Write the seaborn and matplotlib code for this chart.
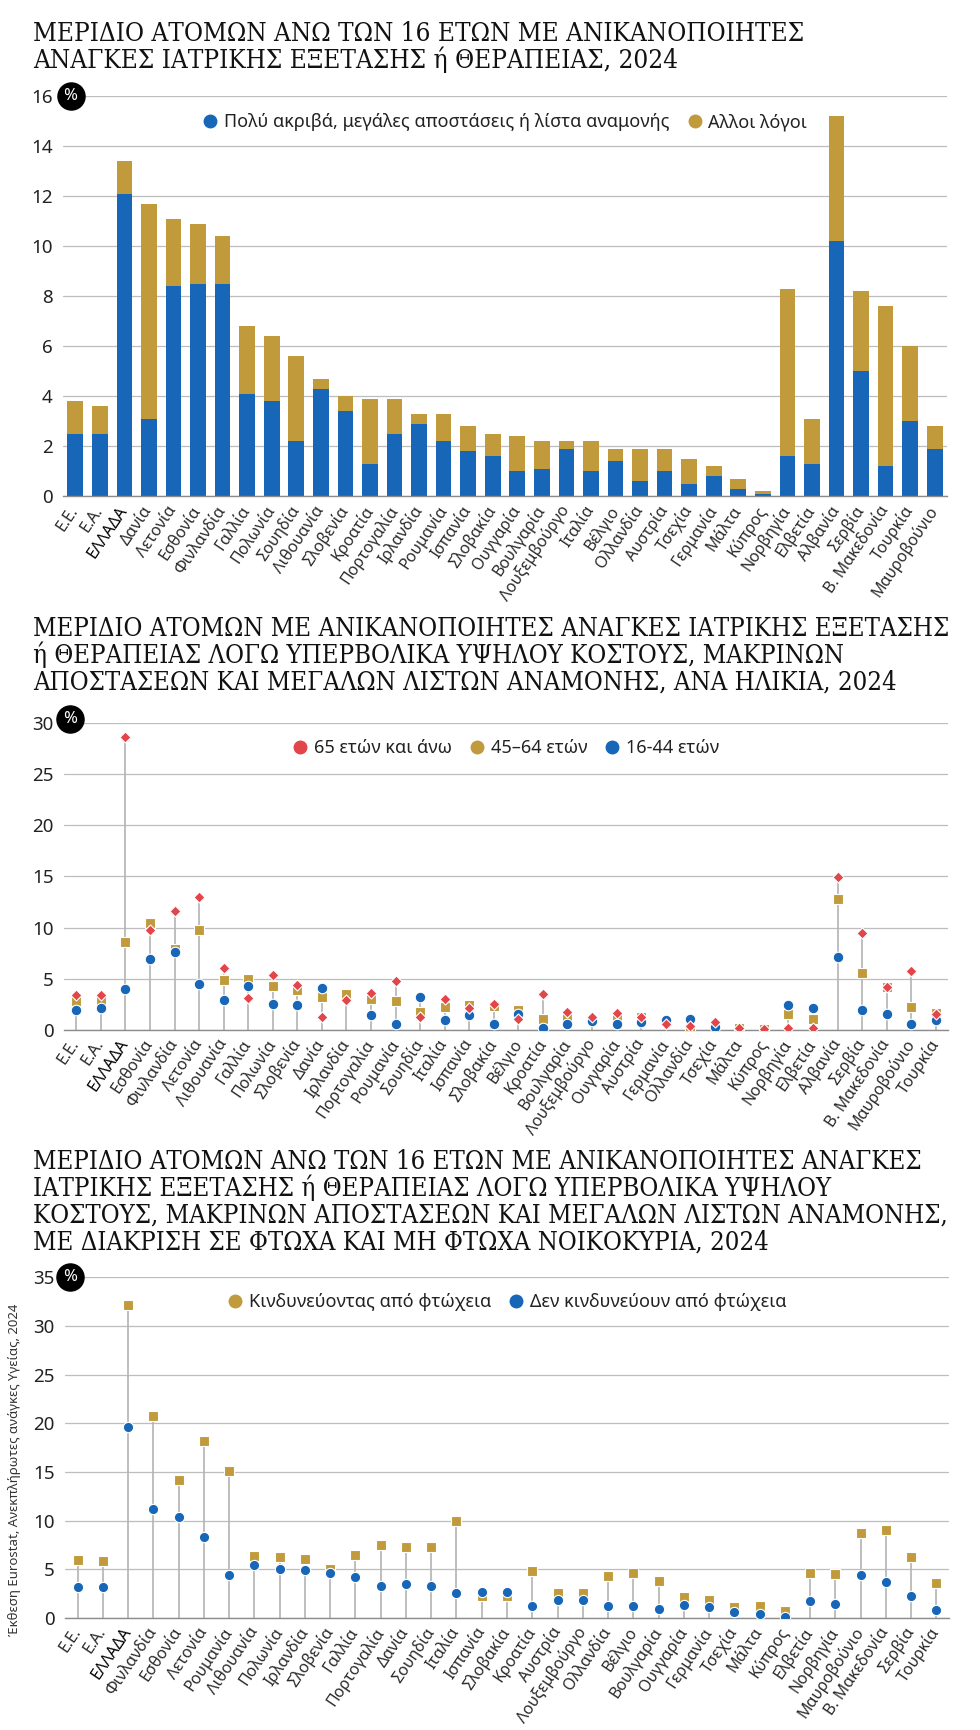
import numpy as np
import pandas as pd
import seaborn as sns
import matplotlib.pyplot as plt
from matplotlib.lines import Line2D

sns.set_theme(style='white')
plt.rcParams['font.family'] = ['Noto Sans', 'DejaVu Sans']

BLUE = '#1766b8'
GOLD = '#c09a3b'
RED = '#e1464a'
GRID = '#bdbdbd'
STEM = '#b3b3b3'
INK = '#111111'
nan = np.nan

# ---- chart 1: stacked bars
countries1 = ['Ε.Ε.', 'Ε.Α.', 'ΕΛΛΑΔΑ', 'Δανία', 'Λετονία', 'Εσθονία', 'Φινλανδία', 'Γαλλία',
              'Πολωνία', 'Σουηδία', 'Λιθουανία', 'Σλοβενία', 'Κροατία', 'Πορτογαλία', 'Ιρλανδία',
              'Ρουμανία', 'Ισπανία', 'Σλοβακία', 'Ουγγαρία', 'Βουλγαρία', 'Λουξεμβούργο', 'Ιταλία',
              'Βέλγιο', 'Ολλανδία', 'Αυστρία', 'Τσεχία', 'Γερμανία', 'Μάλτα', 'Κύπρος', 'Νορβηγία',
              'Ελβετία', 'Αλβανία', 'Σερβία', 'Β. Μακεδονία', 'Τουρκία', 'Μαυροβούνιο']
cost1 = [2.5, 2.5, 12.1, 3.1, 8.4, 8.5, 8.5, 4.1, 3.8, 2.2, 4.3, 3.4, 1.3, 2.5, 2.9, 2.2, 1.8, 1.6,
         1.0, 1.1, 1.9, 1.0, 1.4, 0.6, 1.0, 0.5, 0.8, 0.3, 0.1, 1.6, 1.3, 10.2, 5.0, 1.2, 3.0, 1.9]
other1 = [1.3, 1.1, 1.3, 8.6, 2.7, 2.4, 1.9, 2.7, 2.6, 3.4, 0.4, 0.6, 2.6, 1.4, 0.4, 1.1, 1.0, 0.9,
          1.4, 1.1, 0.3, 1.2, 0.5, 1.3, 0.9, 1.0, 0.4, 0.4, 0.1, 6.7, 1.8, 5.0, 3.2, 6.4, 3.0, 0.9]

# ---- chart 2: by age
countries2 = ['Ε.Ε.', 'Ε.Α.', 'ΕΛΛΑΔΑ', 'Εσθονία', 'Φινλανδία', 'Λετονία', 'Λιθουανία', 'Γαλλία',
              'Πολωνία', 'Σλοβενία', 'Δανία', 'Ιρλανδία', 'Πορτογαλία', 'Ρουμανία', 'Σουηδία',
              'Ιταλία', 'Ισπανία', 'Σλοβακία', 'Βέλγιο', 'Κροατία', 'Βουλγαρία', 'Λουξεμβούργο',
              'Ουγγαρία', 'Αυστρία', 'Γερμανία', 'Ολλανδία', 'Τσεχία', 'Μάλτα', 'Κύπρος', 'Νορβηγία',
              'Ελβετία', 'Αλβανία', 'Σερβία', 'Β. Μακεδονία', 'Μαυροβούνιο', 'Τουρκία']
age65 = [3.4, 3.4, 28.6, 9.8, 11.6, 13.0, 6.1, 3.1, 5.4, 4.4, 1.3, 2.9, 3.6, 4.8, 1.3, 3.0, 2.1, 2.5,
         1.1, 3.5, 1.8, 1.3, 1.7, 1.3, 0.6, 0.4, 0.8, 0.2, 0.1, 0.2, 0.2, 14.9, 9.5, 4.2, 5.8, 1.6]
age45 = [2.8, 2.8, 8.6, 10.4, 7.9, 9.8, 4.9, 5.0, 4.3, 3.9, 3.2, 3.5, 3.0, 2.8, 1.8, 2.2, 2.4, 2.3,
         2.0, 1.1, 1.3, nan, 1.3, 1.3, nan, 0.1, nan, 0.2, 0.1, 1.6, 1.1, 12.8, 5.6, 4.2, 2.2, 1.7]
age16 = [2.0, 2.1, 4.0, 6.9, 7.6, 4.5, 2.9, 4.3, 2.5, 2.4, 4.1, nan, 1.5, 0.6, 3.2, 1.0, 1.5, 0.6,
         1.6, 0.2, 0.6, 0.9, 0.6, 0.8, 1.0, 1.1, 0.3, nan, nan, 2.4, 2.1, 7.1, 2.0, 1.6, 0.6, 1.0]

# ---- chart 3: poor / non-poor households
countries3 = ['Ε.Ε.', 'Ε.Α.', 'ΕΛΛΑΔΑ', 'Φινλανδία', 'Εσθονία', 'Λετονία', 'Ρουμανία', 'Λιθουανία',
              'Πολωνία', 'Ιρλανδία', 'Σλοβενία', 'Γαλλία', 'Πορτογαλία', 'Δανία', 'Σουηδία',
              'Ιταλία', 'Ισπανία', 'Σλοβακία', 'Κροατία', 'Αυστρία', 'Λουξεμβούργο', 'Ολλανδία',
              'Βέλγιο', 'Βουλγαρία', 'Ουγγαρία', 'Γερμανία', 'Τσεχία', 'Μάλτα', 'Κύπρος', 'Ελβετία',
              'Νορβηγία', 'Μαυροβούνιο', 'Β. Μακεδονία', 'Σερβία', 'Τουρκία']
poor = [6.0, 5.9, 32.2, 20.8, 14.2, 18.2, 15.1, 6.4, 6.3, 6.1, 5.0, 6.5, 7.5, 7.3, 7.3, 10.0, 2.3,
        2.3, 4.8, 2.6, 2.6, 4.3, 4.6, 3.8, 2.2, 1.8, 1.1, 1.2, 0.7, 4.6, 4.5, 8.7, 9.0, 6.3, 3.6]
nonpoor = [3.2, 3.2, 19.6, 11.2, 10.4, 8.3, 4.4, 5.4, 5.0, 4.9, 4.6, 4.2, 3.3, 3.5, 3.3, 2.6, 2.7,
           2.7, 1.2, 1.9, 1.9, 1.2, 1.2, 0.9, 1.3, 1.1, 0.6, 0.4, 0.1, 1.7, 1.4, 4.4, 3.7, 2.3, 0.8]

titles = [
    ['ΜΕΡΙΔΙΟ ΑΤΟΜΩΝ ΑΝΩ ΤΩΝ 16 ΕΤΩΝ ΜΕ ΑΝΙΚΑΝΟΠΟΙΗΤΕΣ',
     'ΑΝΑΓΚΕΣ ΙΑΤΡΙΚΗΣ ΕΞΕΤΑΣΗΣ ή ΘΕΡΑΠΕΙΑΣ, 2024'],
    ['ΜΕΡΙΔΙΟ ΑΤΟΜΩΝ ΜΕ ΑΝΙΚΑΝΟΠΟΙΗΤΕΣ ΑΝΑΓΚΕΣ ΙΑΤΡΙΚΗΣ ΕΞΕΤΑΣΗΣ',
     'ή ΘΕΡΑΠΕΙΑΣ ΛΟΓΩ ΥΠΕΡΒΟΛΙΚΑ ΥΨΗΛΟΥ ΚΟΣΤΟΥΣ, ΜΑΚΡΙΝΩΝ',
     'ΑΠΟΣΤΑΣΕΩΝ ΚΑΙ ΜΕΓΑΛΩΝ ΛΙΣΤΩΝ ΑΝΑΜΟΝΗΣ, ΑΝΑ ΗΛΙΚΙΑ, 2024'],
    ['ΜΕΡΙΔΙΟ ΑΤΟΜΩΝ ΑΝΩ ΤΩΝ 16 ΕΤΩΝ ΜΕ ΑΝΙΚΑΝΟΠΟΙΗΤΕΣ ΑΝΑΓΚΕΣ',
     'ΙΑΤΡΙΚΗΣ ΕΞΕΤΑΣΗΣ ή ΘΕΡΑΠΕΙΑΣ ΛΟΓΩ ΥΠΕΡΒΟΛΙΚΑ ΥΨΗΛΟΥ',
     'ΚΟΣΤΟΥΣ, ΜΑΚΡΙΝΩΝ ΑΠΟΣΤΑΣΕΩΝ ΚΑΙ ΜΕΓΑΛΩΝ ΛΙΣΤΩΝ ΑΝΑΜΟΝΗΣ,',
     'ΜΕ ΔΙΑΚΡΙΣΗ ΣΕ ΦΤΩΧΑ ΚΑΙ ΜΗ ΦΤΩΧΑ ΝΟΙΚΟΚΥΡΙΑ, 2024'],
]
# baselines (px from top) and width of first line (px)
title_base = [[41, 68], [636, 663, 689.5], [1169, 1196, 1222.5, 1249.5]]
title_width = [774, 914, 890]

W, H = 980, 1730
fig = plt.figure(figsize=(W / 100, H / 100), dpi=100)

ax1 = fig.add_axes([63 / W, 1 - 496.4 / H, 884 / W, 400 / H])
ax2 = fig.add_axes([64 / W, 1 - 1030 / H, 884 / W, 307.3 / H])
ax3 = fig.add_axes([65 / W, 1 - 1618 / H, 884 / W, 340.7 / H])


def style_axis(ax, labels, ymax, step, badge_x, badge_y):
    n = len(labels)
    ax.set_xlim(-0.5, n - 0.5)
    ax.set_ylim(0, ymax)
    ax.set_yticks(np.arange(0, ymax + 1, step))
    ax.yaxis.grid(True, color=GRID, lw=0.9)
    ax.xaxis.grid(False)
    ax.set_axisbelow(True)
    for s in ['top', 'right', 'left']:
        ax.spines[s].set_visible(False)
    ax.spines['bottom'].set_color('#8c8c8c')
    ax.spines['bottom'].set_linewidth(1)
    ax.set_xlabel('')
    ax.set_ylabel('')
    ax.tick_params(axis='y', length=0, labelsize=13.5, pad=7.5, labelcolor='#222222')
    ax.set_xticks(range(n))
    ax.set_xticklabels(labels, rotation=56, ha='right', va='center',
                       rotation_mode='anchor', fontsize=11.5, color='#2a2a2a')
    for t in ax.get_xticklabels():
        if t.get_text() == 'ΕΛΛΑΔΑ':
            t.set_fontweight('bold')
            t.set_color('#000000')
    ax.tick_params(axis='x', which='major', length=0, pad=8)
    ax.set_xticks(np.arange(-0.5, n), minor=True)
    ax.tick_params(axis='x', which='minor', length=4, width=1, color='#8c8c8c', direction='out')
    # % badge
    ax.plot([badge_x], [badge_y], 'o', ms=19.5, color='black', clip_on=False, zorder=6)
    ax.text(badge_x, badge_y, '%', color='white', fontsize=12, ha='center', va='center',
            zorder=7, clip_on=False)


def legend(ax, items, ypos):
    handles = [Line2D([], [], marker='o', ls='', color=c, markersize=9) for c, _ in items]
    ax.legend(handles, [l for _, l in items], loc='center', bbox_to_anchor=(0.5, ypos),
              ncol=len(items), frameon=False, fontsize=13, handletextpad=0.35,
              handlelength=0.8, columnspacing=1.0, labelcolor='#222222')


# chart 1
total1 = np.array(cost1) + np.array(other1)
sns.barplot(x=countries1, y=total1, order=countries1, color=GOLD, saturation=1,
            width=0.64, linewidth=0, errorbar=None, ax=ax1)
sns.barplot(x=countries1, y=cost1, order=countries1, color=BLUE, saturation=1,
            width=0.64, linewidth=0, errorbar=None, ax=ax1)
style_axis(ax1, countries1, 16, 2, -0.19, 16)
legend(ax1, [(BLUE, 'Πολύ ακριβά, μεγάλες αποστάσεις ή λίστα αναμονής'), (GOLD, 'Αλλοι λόγοι')], 0.935)

# chart 2
top2 = np.nanmax(np.vstack([age65, age45, age16]), axis=0)
ax2.vlines(range(len(countries2)), 0, top2, color=STEM, lw=1.2, zorder=2)
sns.stripplot(x=countries2, y=age45, order=countries2, jitter=False, marker='s', size=7.8,
              color=GOLD, edgecolor='white', linewidth=0.8, zorder=3, ax=ax2)
sns.stripplot(x=countries2, y=age16, order=countries2, jitter=False, marker='o', size=7.6,
              color=BLUE, edgecolor='white', linewidth=0.8, zorder=4, ax=ax2)
sns.stripplot(x=countries2, y=age65, order=countries2, jitter=False, marker='D', size=5.6,
              color=RED, edgecolor='white', linewidth=0.8, zorder=5, ax=ax2)
style_axis(ax2, countries2, 30, 5, -0.26, 30.4)
legend(ax2, [(RED, '65 ετών και άνω'), (GOLD, '45–64 ετών'), (BLUE, '16-44 ετών')], 0.918)

# chart 3
top3 = np.maximum(poor, nonpoor)
ax3.vlines(range(len(countries3)), 0, top3, color=STEM, lw=1.2, zorder=2)
sns.stripplot(x=countries3, y=poor, order=countries3, jitter=False, marker='s', size=7.4,
              color=GOLD, edgecolor='white', linewidth=0.8, zorder=3, ax=ax3)
sns.stripplot(x=countries3, y=nonpoor, order=countries3, jitter=False, marker='o', size=7.4,
              color=BLUE, edgecolor='white', linewidth=0.8, zorder=4, ax=ax3)
style_axis(ax3, countries3, 35, 5, -0.3, 35)
legend(ax3, [(GOLD, 'Κινδυνεύοντας από φτώχεια'), (BLUE, 'Δεν κινδυνεύουν από φτώχεια')], 0.9275)

# titles, fitted to the width of the first line
fig.canvas.draw()
renderer = fig.canvas.get_renderer()
for lines, bases, target in zip(titles, title_base, title_width):
    texts = [fig.text(33 / W, 1 - b / H, s, fontsize=17, family='DejaVu Serif',
                      fontstretch='condensed', color=INK, va='baseline', ha='left')
             for s, b in zip(lines, bases)]
    w = texts[0].get_window_extent(renderer).width
    fs = 17 * target / w
    for t in texts:
        t.set_fontsize(fs)

fig.text(15 / W, 1 - 1470 / H, 'Έκθεση Eurostat, Ανεκπλήρωτες ανάγκες Υγείας, 2024',
         rotation=90, fontsize=9.5, color='#333333', ha='center', va='center')

fig.savefig('out.png', dpi=100)
